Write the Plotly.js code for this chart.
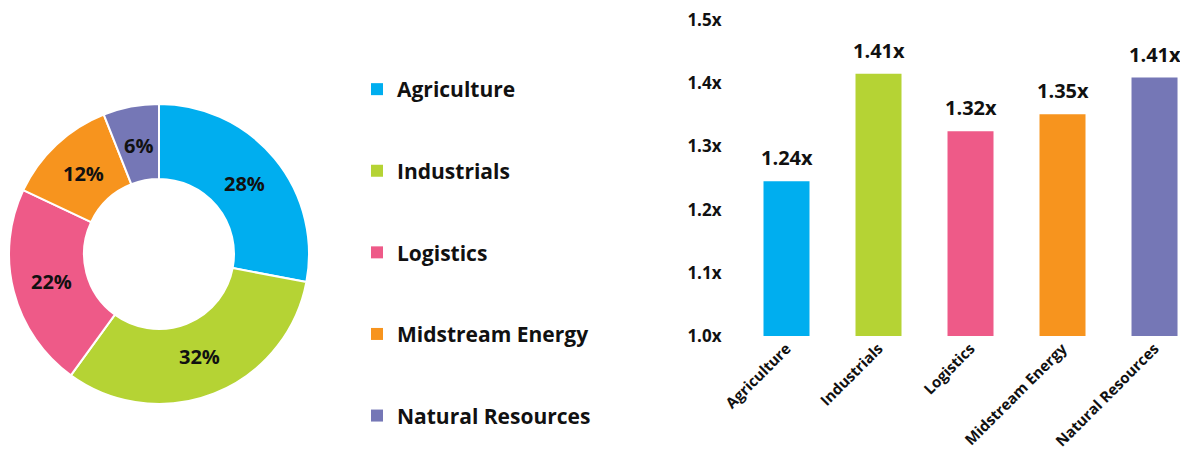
<!DOCTYPE html>
<html>
<head>
<meta charset="utf-8">
<script src="https://cdn.plot.ly/plotly-3.0.1.min.js"></script>
<style>html,body{margin:0;padding:0;background:#fff;}#chart{width:1180px;height:455px;}</style>
</head>
<body>
<div id="chart"></div>
<script>
var categories = ['Agriculture', 'Industrials', 'Logistics', 'Midstream Energy', 'Natural Resources'];
var colors = ['#00AEEF', '#B5D334', '#EE5A88', '#F7941E', '#7577B6'];
var shares = [28, 32, 22, 12, 6];
var multiples = [1.245, 1.415, 1.324, 1.351, 1.409];
var multipleLabels = ['1.24x', '1.41x', '1.32x', '1.35x', '1.41x'];
var yTicks = [1.0, 1.1, 1.2, 1.3, 1.4, 1.5];
var yTickLabels = ['1.0x', '1.1x', '1.2x', '1.3x', '1.4x', '1.5x'];

var FONT = '"Open Sans", Roboto, sans-serif';
var W = 1180, H = 455;
// donut geometry (pixels)
var PIE_CX = 159, PIE_CY = 254, PIE_R = 150, PIE_HOLE = 0.5;

var traces = [];
traces.push({
  type: 'pie',
  labels: categories,
  values: shares,
  sort: false,
  direction: 'clockwise',
  rotation: 0,
  hole: PIE_HOLE,
  marker: {colors: colors, line: {color: '#ffffff', width: 2}},
  textinfo: 'none',
  showlegend: false,
  domain: {x: [(PIE_CX - PIE_R) / W, (PIE_CX + PIE_R) / W], y: [(H - PIE_CY - PIE_R) / H, (H - PIE_CY + PIE_R) / H]},
  hoverinfo: 'none'
});

categories.forEach(function (c, i) {
  traces.push({
    type: 'bar',
    x: [c],
    y: [multiples[i]],
    name: c,
    legendgroup: c,
    marker: {color: colors[i]},
    width: 0.5,
    xaxis: 'x',
    yaxis: 'y',
    hoverinfo: 'none'
  });
});

var annotations = categories.map(function (c, i) {
  return {
    x: c, y: multiples[i], xref: 'x', yref: 'y',
    text: multipleLabels[i], showarrow: false,
    yanchor: 'bottom', yshift: 8,
    font: {family: FONT, size: 20, weight: 700, color: '#111111'}
  };
});

// donut percentage labels placed at the middle of each ring slice
var total = shares.reduce(function (a, b) { return a + b; }, 0);
var cum = 0;
var rMid = PIE_R * (1 + PIE_HOLE) / 2 - 2;
shares.forEach(function (s) {
  var mid = (cum + s / 2) / total * 2 * Math.PI;
  cum += s;
  var px = PIE_CX + rMid * Math.sin(mid);
  var py = PIE_CY - rMid * Math.cos(mid);
  annotations.push({
    x: px / W, y: 1 - py / H, xref: 'paper', yref: 'paper',
    text: s + '%', showarrow: false, xanchor: 'center', yanchor: 'middle',
    font: {family: FONT, size: 20, weight: 700, color: '#111111'}
  });
});

var layout = {
  width: W, height: H,
  margin: {l: 0, r: 0, t: 0, b: 0},
  paper_bgcolor: '#ffffff',
  plot_bgcolor: '#ffffff',
  barmode: 'overlay',
  font: {family: FONT, color: '#111111'},
  showlegend: true,
  legend: {
    x: 357 / W, xanchor: 'left',
    y: 1 - 69 / H, yanchor: 'top',
    tracegroupgap: 51.3,
    font: {family: FONT, size: 21, weight: 700, color: '#111111'},
    bgcolor: 'rgba(0,0,0,0)'
  },
  xaxis: {
    domain: [740.5 / W, 1],
    range: [-0.5, 4.277],
    type: 'category',
    tickangle: -45,
    showgrid: false, zeroline: false, showline: false, ticks: '',
    tickfont: {family: FONT, size: 15, weight: 700, color: '#111111'},
    fixedrange: true
  },
  yaxis: {
    domain: [(H - 336) / H, (H - 20) / H],
    range: [1.0, 1.5],
    tickmode: 'array',
    tickvals: yTicks,
    ticktext: yTickLabels,
    showgrid: false, zeroline: false, showline: false, ticks: '',
    ticklabelstandoff: 18,
    tickfont: {family: FONT, size: 17, weight: 700, color: '#111111'},
    fixedrange: true
  },
  annotations: annotations
};

Plotly.newPlot('chart', traces, layout, {displayModeBar: false, staticPlot: true});
</script>
</body>
</html>
